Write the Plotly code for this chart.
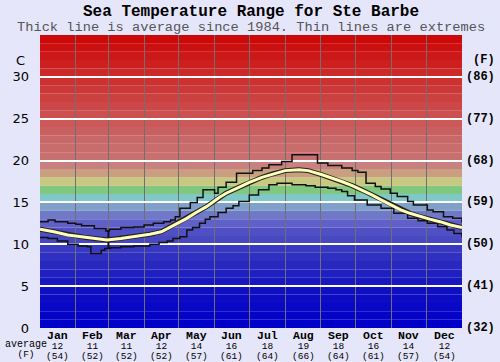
import plotly.graph_objects as go

# ---------------- data ----------------
MONTHS = ["Jan", "Feb", "Mar", "Apr", "May", "Jun",
          "Jul", "Aug", "Sep", "Oct", "Nov", "Dec"]
MONTH_START_DAYS = [0, 31, 59, 90, 120, 151, 181, 212, 243, 273, 304, 334, 365]
MONTH_AVG_C = [12, 11, 11, 12, 14, 16, 18, 19, 18, 16, 14, 12]
MONTH_AVG_F = [54, 52, 52, 52, 57, 61, 64, 66, 64, 61, 57, 54]

C_TICKS = [0, 5, 10, 15, 20, 25, 30]
F_TICK_LABELS = ["(32)", "(41)", "(50)", "(59)", "(68)", "(77)", "(86)"]

AVG_DAYS = [0, 12, 24, 40, 58, 70, 81, 95, 105, 112, 120, 127, 135, 144, 155,
            161, 172, 181, 192, 201, 212, 224, 232, 244, 253, 261, 270, 278,
            287, 295, 304, 312, 320, 329, 337, 346, 355, 365]
AVG_TEMP = [11.8, 11.5, 11.1, 10.8, 10.5, 10.7, 10.9, 11.2, 11.5, 12.0, 12.6,
            13.1, 13.8, 14.5, 15.6, 16.1, 16.8, 17.4, 18.0, 18.4, 18.8, 18.9,
            18.8, 18.3, 17.9, 17.5, 17.0, 16.5, 15.9, 15.3, 14.7, 14.1, 13.7,
            13.3, 13.0, 12.7, 12.3, 12.0]

MAX_DAYS = [0, 7, 13, 24, 31, 36, 47, 57, 60, 70, 81, 90, 98, 107, 113, 117,
            121, 130, 136, 141, 151, 154, 161, 170, 184, 192, 198, 209, 218,
            226, 240, 249, 261, 270, 275, 282, 290, 295, 303, 309, 318, 323,
            335, 340, 349, 357, 365]
MAX_TEMP = [12.7, 12.9, 12.7, 12.5, 12.4, 12.2, 11.9, 11.6, 11.8, 12.0, 12.05,
            12.3, 12.5, 12.7, 12.9, 13.3, 14.3, 15.0, 15.6, 16.5, 16.1, 16.8,
            17.4, 18.5, 18.8, 19.1, 19.5, 19.9, 20.7, 20.7, 19.7, 19.4, 19.1,
            18.8, 18.6, 17.3, 16.9, 16.6, 16.1, 15.7, 15.1, 14.7, 14.1, 13.9,
            13.3, 13.1, 12.6]

MIN_DAYS = [0, 7, 15, 24, 33, 41, 44, 53, 56, 59, 59.4, 61, 70, 81, 95, 103,
            110, 115, 121, 127, 132, 138, 143, 147, 154, 161, 167, 172, 181,
            189, 198, 205, 212, 218, 230, 238, 249, 256, 261, 266, 272, 283,
            295, 306, 318, 327, 335, 344, 352, 358, 365]
MIN_TEMP = [10.8, 10.7, 10.4, 10.0, 9.8, 9.7, 8.9, 9.3, 9.5, 11.6, 9.5, 9.6,
            9.7, 9.8, 10.0, 10.2, 10.4, 10.7, 10.9, 11.7, 12.0, 12.5, 13.0,
            13.3, 13.8, 14.3, 14.6, 15.1, 15.9, 16.5, 17.1, 17.3, 17.3, 17.1,
            17.0, 16.8, 16.7, 16.5, 16.3, 15.8, 15.3, 14.7, 14.3, 13.7, 13.1,
            12.8, 12.5, 12.1, 11.7, 11.3, 10.9]

# ---------------- style ----------------
BAND_COLORS = [
    "#0000c8", "#0404c8", "#0808c6", "#0c0cc4", "#1010c2",
    "#1818c0", "#2020c0", "#2828c0", "#3030c0", "#3838c0",
    "#4848c0", "#5050c4", "#6060c8", "#7078c8", "#80a0c8",
    "#80c8c8", "#80c880", "#c8c880", "#c8a080", "#c88080",
    "#c87070", "#c86c6c", "#c86868", "#c86060", "#cc5858",
    "#cc5050", "#cc4848", "#cc4040", "#cc3838", "#cc3030",
    "#cc2828", "#cc2020", "#cc1818", "#cc1010", "#cc0808",
]
BG = "#e6e6fa"
MONO = "Liberation Mono, Courier New, monospace"


def sized(text, px, bold=False):
    inner = "<b>" + text + "</b>" if bold else text
    return '<span style="font-size:%.1fpx">%s</span>' % (px, inner)


fig = go.Figure()

shapes = []
for i, col in enumerate(BAND_COLORS):
    shapes.append(dict(type="rect", xref="x", yref="y", x0=0, x1=365,
                       y0=i, y1=i + 1, fillcolor=col, line=dict(width=0),
                       layer="below"))

fig.add_trace(go.Scatter(x=MAX_DAYS, y=MAX_TEMP, mode="lines",
                         line=dict(color="#111111", width=1.5, shape="hv"),
                         hoverinfo="skip"))
fig.add_trace(go.Scatter(x=MIN_DAYS, y=MIN_TEMP, mode="lines",
                         line=dict(color="#111111", width=1.5, shape="hv"),
                         hoverinfo="skip"))
fig.add_trace(go.Scatter(x=AVG_DAYS, y=AVG_TEMP, mode="lines",
                         line=dict(color="#222222", width=5),
                         hoverinfo="skip"))
fig.add_trace(go.Scatter(x=AVG_DAYS, y=AVG_TEMP, mode="lines",
                         line=dict(color="#ffffb8", width=3),
                         hoverinfo="skip"))

annotations = []
# title and subtitle
annotations.append(dict(text="<b>Sea Temperature Range for Ste Barbe</b>",
                        xref="paper", yref="paper", x=0.5, y=1, yshift=23,
                        xanchor="center", yanchor="middle", showarrow=False,
                        font=dict(family=MONO, size=16, color="#000000")))
annotations.append(dict(text="Thick line is average since 1984. Thin lines are extremes",
                        xref="paper", yref="paper", x=0.5, y=1, yshift=8,
                        xanchor="center", yanchor="middle", showarrow=False,
                        font=dict(family=MONO, size=13.7, color="#555555")))
# unit headers
annotations.append(dict(text="C", xref="paper", yref="y", x=0, y=32,
                        xanchor="right", yanchor="middle", xshift=-13,
                        showarrow=False,
                        font=dict(family="DejaVu Sans", size=13, color="#000")))
annotations.append(dict(text="<b>(F)</b>", xref="paper", yref="y", x=1, y=32,
                        xanchor="left", yanchor="middle", xshift=9,
                        showarrow=False,
                        font=dict(family=MONO, size=12, color="#000")))
for c, f in zip(C_TICKS, F_TICK_LABELS):
    annotations.append(dict(text="<b>" + f + "</b>", xref="paper", yref="y",
                            x=1, y=c, xanchor="left", yanchor="middle",
                            xshift=2, showarrow=False,
                            font=dict(family=MONO, size=12, color="#000")))
# month labels: name / average C / average F stacked in one block
for i, m in enumerate(MONTHS):
    mid = (MONTH_START_DAYS[i] + MONTH_START_DAYS[i + 1]) / 2
    txt = (sized(m, 11.5, bold=True) + "<br>" +
           sized(str(MONTH_AVG_C[i]), 9.5) + "<br>" +
           sized("(" + str(MONTH_AVG_F[i]) + ")", 9.5))
    annotations.append(dict(text=txt, xref="x", yref="paper",
                            x=mid, y=0, yshift=0, xanchor="center",
                            yanchor="top", showarrow=False, borderpad=0,
                            font=dict(family=MONO, size=7.7, color="#000")))
annotations.append(dict(text=sized("average", 10) + "<br>" + sized("(F)", 9.5),
                        xref="paper", yref="paper", x=0, y=0,
                        xshift=-14, yshift=-10, xanchor="center",
                        yanchor="top", showarrow=False, borderpad=0,
                        font=dict(family=MONO, size=7.7, color="#000")))

fig.update_layout(
    width=500, height=362,
    margin=dict(l=35, r=38, t=35, b=34),
    paper_bgcolor=BG, plot_bgcolor=BG,
    showlegend=False,
    shapes=shapes,
    annotations=annotations,
    xaxis=dict(range=[0, 365], tickvals=MONTH_START_DAYS[1:-1],
               showticklabels=False, ticks="", showgrid=True,
               gridcolor="#707070", gridwidth=1, zeroline=False,
               showline=False, fixedrange=True),
    yaxis=dict(range=[0, 35], tickvals=C_TICKS, ticks="",
               showgrid=True, gridcolor="#ffffff", gridwidth=2,
               zeroline=False, showline=False, ticklabelstandoff=10,
               tickfont=dict(family="DejaVu Sans", size=13, color="#000"),
               fixedrange=True),
)

fig.write_html("out.html", config={"displayModeBar": False},
               post_script="document.body.style.margin='0';"
                           "document.body.style.overflow='hidden';")
